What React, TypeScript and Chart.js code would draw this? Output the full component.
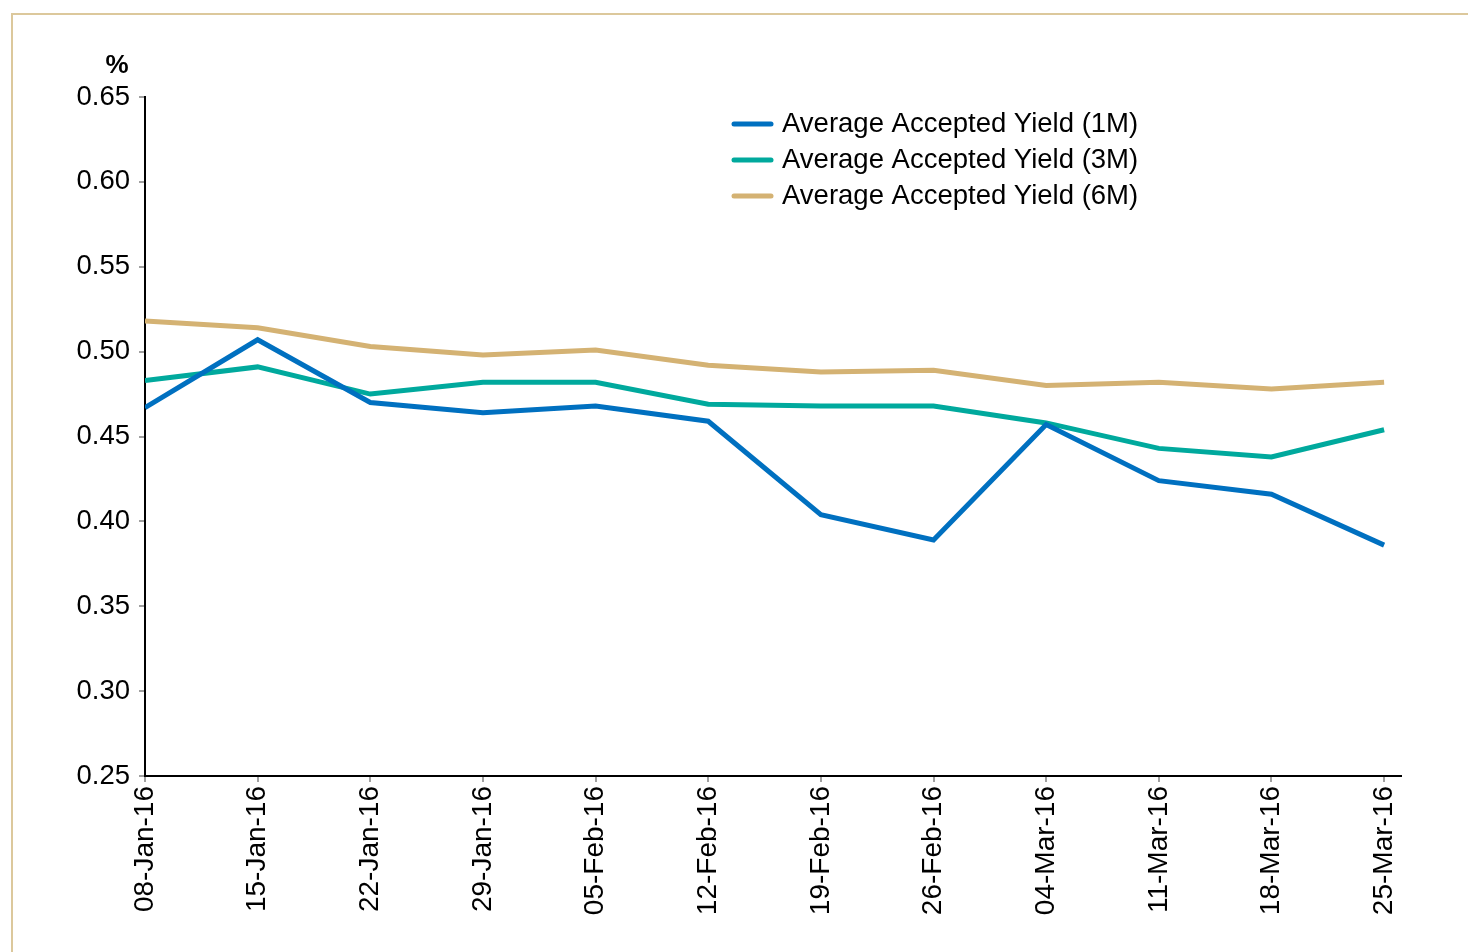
import React, { useEffect, useRef } from "react";
import { Chart, registerables } from "chart.js";

Chart.register(...registerables);

const dateLabels = ["08-Jan-16", "15-Jan-16", "22-Jan-16", "29-Jan-16", "05-Feb-16", "12-Feb-16", "19-Feb-16", "26-Feb-16", "04-Mar-16", "11-Mar-16", "18-Mar-16", "25-Mar-16"];
const yield1M = [0.467, 0.507, 0.470, 0.464, 0.468, 0.459, 0.404, 0.389, 0.457, 0.424, 0.416, 0.386];
const yield3M = [0.483, 0.491, 0.475, 0.482, 0.482, 0.469, 0.468, 0.468, 0.458, 0.443, 0.438, 0.454];
const yield6M = [0.518, 0.514, 0.503, 0.498, 0.501, 0.492, 0.488, 0.489, 0.480, 0.482, 0.478, 0.482];
const seriesNames = ["Average Accepted Yield (1M)", "Average Accepted Yield (3M)", "Average Accepted Yield (6M)"];
const seriesColors = ["#0070C0", "#00A99D", "#D4B273"];

const FONT = "'Liberation Sans', Arial, sans-serif";

export default function App() {
  const canvasRef = useRef<HTMLCanvasElement | null>(null);

  useEffect(() => {
    if (!canvasRef.current) return;
    const toPts = (arr: number[]) => arr.map((v, i) => ({ x: i, y: v }));
    const legendPlugin = {
      id: "customLegend",
      afterDraw(chart: any) {
        const ctx = chart.ctx;
        ctx.save();
        ctx.fillStyle = "#000";
        ctx.font = `bold 26px ${FONT}`;
        ctx.textAlign = "center";
        ctx.textBaseline = "alphabetic";
        ctx.fillText("%", 117, 73);
        ctx.font = `27.5px ${FONT}`;
        ctx.textAlign = "left";
        ctx.textBaseline = "middle";
        chart.data.datasets.forEach((ds: any, i: number) => {
          const y = 124 + i * 36;
          ctx.strokeStyle = ds.borderColor;
          ctx.lineWidth = 5;
          ctx.lineCap = "round";
          ctx.beginPath();
          ctx.moveTo(734, y);
          ctx.lineTo(771, y);
          ctx.stroke();
          ctx.fillStyle = "#000";
          ctx.fillText(ds.label, 782, y);
        });
        ctx.restore();
      },
    };
    const chart = new Chart(canvasRef.current, {
      type: "line",
      data: {
        datasets: [yield1M, yield3M, yield6M].map((arr, i) => ({
          label: seriesNames[i],
          data: toPts(arr),
          borderColor: seriesColors[i],
          backgroundColor: seriesColors[i],
          borderWidth: 5,
          pointRadius: 0,
          tension: 0,
        })),
      },
      options: {
        animation: false,
        responsive: false,
        layout: { padding: { left: 0, top: 97, right: 67, bottom: 0 } },
        plugins: { legend: { display: false }, tooltip: { enabled: false } },
        scales: {
          x: {
            type: "linear",
            min: 0,
            max: 11.15,
            afterBuildTicks: (scale: any) => {
              scale.ticks = dateLabels.map((_, i) => ({ value: i }));
            },
            afterFit: (scale: any) => {
              scale.height = 176;
            },
            grid: { drawOnChartArea: false, drawTicks: true, tickLength: 6, color: "#A0A0A0", lineWidth: 2 },
            border: { color: "#000", width: 2 },
            ticks: {
              autoSkip: false,
              maxRotation: 90,
              minRotation: 90,
              padding: 4,
              color: "#000",
              font: { family: FONT, size: 28 },
              callback: (v: any) => dateLabels[Math.round(v)] ?? "",
            },
          },
          y: {
            min: 0.25,
            max: 0.65,
            afterFit: (scale: any) => {
              scale.width = 145;
            },
            grid: { drawOnChartArea: false, drawTicks: true, tickLength: 6, color: "#A0A0A0", lineWidth: 2 },
            border: { color: "#000", width: 2 },
            ticks: {
              stepSize: 0.05,
              padding: 9,
              color: "#000",
              font: { family: FONT, size: 27.5 },
              callback: (v: any) => Number(v).toFixed(2),
            },
          },
        },
      },
      plugins: [legendPlugin],
    } as any);
    return () => chart.destroy();
  }, []);

  return (
    <div style={{ position: "fixed", left: 0, top: 0, width: 1468, height: 952, overflow: "hidden", background: "#fff" }}>
      <div style={{ position: "absolute", left: 11, top: 13, width: 1480, height: 960, border: "2px solid #DCC89C", boxSizing: "border-box" }} />
      <canvas ref={canvasRef} width={1468} height={952} style={{ position: "absolute", left: 0, top: 0, width: 1468, height: 952 }} />
    </div>
  );
}
